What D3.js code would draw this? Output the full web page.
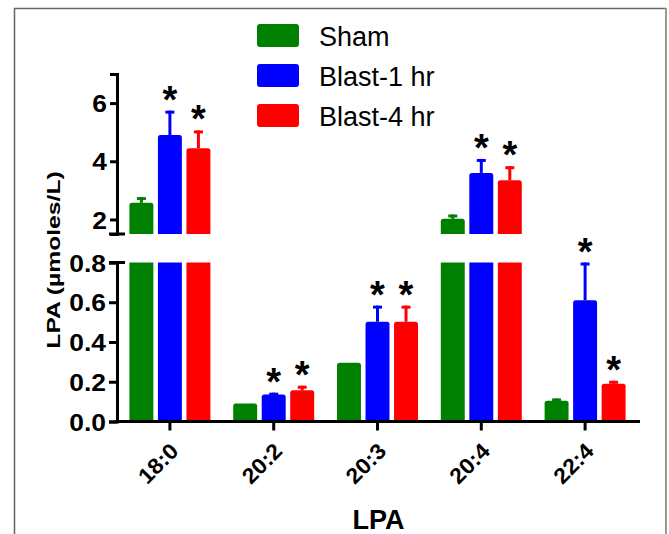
<!doctype html>
<html>
<head>
	<title>LPA species after blast</title>
	<script src="https://d3js.org/d3.v7.min.js"></script>
	<style>
	body { margin: 0; background: #fff; }
	svg text { font-family: "Liberation Sans", Arial, sans-serif; fill: #000; }
	svg .axis path, svg .axis line { stroke: #000; stroke-width: 3px; }
	</style>
</head>
<body>
<script>

	// the values (mean and mean + error)
	var categories = ["18:0", "20:2", "20:3", "20:4", "22:4"];
	var seriesNames = ["Sham", "Blast-1 hr", "Blast-4 hr"];
	var seriesColors = ["#008000", "#0000ff", "#ff0000"];

	var sham_mean   = [2.57, 0.09, 0.295, 2.02, 0.104];
	var sham_top    = [2.77, 0.09, 0.295, 2.17, 0.116];
	var blast1_mean = [4.90, 0.136, 0.502, 3.60, 0.61];
	var blast1_top  = [5.74, 0.145, 0.583, 4.08, 0.80];
	var blast4_mean = [4.45, 0.157, 0.502, 3.35, 0.19];
	var blast4_top  = [5.06, 0.180, 0.583, 3.83, 0.205];

	// significance stars (1 = star)
	var sham_star   = [0, 0, 0, 0, 0];
	var blast1_star = [1, 1, 1, 1, 1];
	var blast4_star = [1, 1, 1, 1, 1];

	// broken y axis: lower part and upper part
	var lowerTicks = [0, 0.2, 0.4, 0.6, 0.8];
	var upperTicks = [2, 4, 6];
	var lowerDomain = [0, 0.8];
	var upperDomain = [1.5, 7];

	var means = [sham_mean, blast1_mean, blast4_mean];
	var tops = [sham_top, blast1_top, blast4_top];
	var stars = [sham_star, blast1_star, blast4_star];

	var W = 669, H = 534;
	var STRETCH = 1.1; // the bold labels are drawn a bit wide in the figure

	var svg = d3.select("body").append("svg")
		.attr("width", W)
		.attr("height", H);

	// the frame round the figure
	svg.append("path")
		.attr("d", "M14.5," + H + "V8.5H666")
		.attr("fill", "none")
		.attr("stroke", "#666")
		.attr("stroke-width", 1.5);
	svg.append("line")
		.attr("x1", 666).attr("x2", 666)
		.attr("y1", 8).attr("y2", H)
		.attr("stroke", "#999")
		.attr("stroke-width", 2);

	// scales
	var xScale = d3.scaleBand()
		.domain(categories)
		.range([118, 637]);

	var xSub = d3.scaleBand()
		.domain(d3.range(seriesNames.length))
		.range([0, xScale.bandwidth()])
		.paddingInner(0.16)
		.paddingOuter(0.4);

	var yLower = d3.scaleLinear().domain(lowerDomain).range([421.5, 262.5]);
	var yUpper = d3.scaleLinear().domain(upperDomain).range([234, 74]);

	var axisX = 117;

	// bar shape, rounded on top only when the real top is shown
	function barPath(x, yTop, yBottom, w, r) {
		if (!r) return "M" + x + "," + yBottom + "V" + yTop + "H" + (x + w) + "V" + yBottom + "Z";
		return "M" + x + "," + yBottom +
			"V" + (yTop + r) +
			"Q" + x + "," + yTop + " " + (x + r) + "," + yTop +
			"H" + (x + w - r) +
			"Q" + (x + w) + "," + yTop + " " + (x + w) + "," + (yTop + r) +
			"V" + yBottom + "Z";
	}

	// flatten the table for drawing
	var bars = [];
	categories.forEach(function(c, ci) {
		seriesNames.forEach(function(s, si) {
			bars.push({
				cat: c, s: si,
				mean: means[si][ci],
				top: tops[si][ci],
				star: stars[si][ci],
				color: seriesColors[si]
			});
		});
	});

	var gBars = svg.append("g");

	bars.forEach(function(d) {
		var x = xScale(d.cat) + xSub(d.s);
		var w = xSub.bandwidth();
		var cx = x + w / 2;
		var inUpper = d.mean > lowerDomain[1];

		// lower segment
		var lowTop = Math.min(d.mean, lowerDomain[1]);
		gBars.append("path")
			.attr("d", barPath(x, yLower(lowTop), yLower(0), w, inUpper ? 0 : 2.5))
			.attr("fill", d.color);

		// upper segment
		if (inUpper) {
			gBars.append("path")
				.attr("d", barPath(x, yUpper(d.mean), yUpper(upperDomain[0]), w, 2.5))
				.attr("fill", d.color);
		}

		var y = inUpper ? yUpper : yLower;
		var yMean = y(d.mean);
		var yErr = y(d.top);

		// error bar, only upwards
		if (d.top > d.mean) {
			gBars.append("line")
				.attr("x1", cx).attr("x2", cx)
				.attr("y1", yMean).attr("y2", yErr)
				.attr("stroke", d.color)
				.attr("stroke-width", 3);
			gBars.append("line")
				.attr("x1", cx - 4.5).attr("x2", cx + 4.5)
				.attr("y1", yErr + 1.5).attr("y2", yErr + 1.5)
				.attr("stroke", d.color)
				.attr("stroke-width", 3);
		}

		if (d.star) {
			gBars.append("text")
				.attr("x", cx)
				.attr("y", Math.min(yErr, yMean) + 2)
				.attr("text-anchor", "middle")
				.attr("font-size", 38)
				.attr("font-weight", "bold")
				.text("*");
		}
	});

	// y axes
	var yAxisLower = d3.axisLeft(yLower)
		.tickValues(lowerTicks)
		.tickFormat(d3.format(".1f"))
		.tickSizeOuter(0)
		.tickSize(8)
		.tickPadding(3);

	var yAxisUpper = d3.axisLeft(yUpper)
		.tickValues(upperTicks)
		.tickFormat(d3.format("d"))
		.tickSizeOuter(0)
		.tickSize(7)
		.tickPadding(3);

	var gyl = svg.append("g")
		.attr("class", "axis")
		.attr("transform", "translate(" + axisX + ",0)")
		.call(yAxisLower);

	var gyu = svg.append("g")
		.attr("class", "axis")
		.attr("transform", "translate(" + axisX + ",0)")
		.call(yAxisUpper);

	// bigger bold tick labels, widened, keeping their right edge in place
	svg.selectAll(".axis")
		.attr("font-size", 24)
		.attr("font-family", null)
		.attr("font-weight", "bold");

	svg.selectAll(".axis .tick text")
		.attr("dy", "0.36em")
		.attr("transform", function() {
			var x = +d3.select(this).attr("x");
			return "translate(" + x + ",0) scale(" + STRETCH + ",1)";
		})
		.attr("x", 0);

	// the caps at the break
	gyl.append("line")
		.attr("x1", -8).attr("x2", 8)
		.attr("y1", yLower(lowerDomain[1])).attr("y2", yLower(lowerDomain[1]));
	gyu.append("line")
		.attr("x1", -8).attr("x2", 8)
		.attr("y1", yUpper(upperDomain[0])).attr("y2", yUpper(upperDomain[0]));

	// x axis
	var xAxis = d3.axisBottom(xScale)
		.tickSize(9)
		.tickSizeOuter(0)
		.tickPadding(4);

	var gx = svg.append("g")
		.attr("class", "axis")
		.attr("transform", "translate(0," + yLower(0) + ")")
		.call(xAxis);

	gx.attr("font-size", 22)
		.attr("font-family", null)
		.attr("font-weight", "bold");

	gx.select(".domain").attr("d", "M" + (axisX - 1.5) + ",0H640");

	gx.selectAll(".tick text")
		.attr("text-anchor", "end")
		.attr("dy", 0)
		.attr("transform", "translate(10,31) rotate(-45) scale(1.05,1)")
		.attr("y", 0)
		.attr("x", 0);

	// axis titles
	svg.append("text")
		.attr("transform", "translate(60,260) rotate(-90) scale(1.3,1)")
		.attr("text-anchor", "middle")
		.attr("font-size", 19)
		.attr("font-weight", "bold")
		.text("LPA (µmoles/L)");

	svg.append("text")
		.attr("x", (axisX + 640) / 2)
		.attr("y", 529)
		.attr("text-anchor", "middle")
		.attr("font-size", 27)
		.attr("font-weight", "bold")
		.text("LPA");

	// legend
	var legend = svg.append("g")
		.attr("transform", "translate(257,24)");

	var item = legend.selectAll("g")
		.data(seriesNames)
		.enter().append("g")
		.attr("transform", function(d, i) { return "translate(0," + (i * 40) + ")"; });

	item.append("rect")
		.attr("width", 42)
		.attr("height", 23)
		.attr("rx", 3)
		.attr("fill", function(d, i) { return seriesColors[i]; });

	item.append("text")
		.attr("x", 62)
		.attr("y", 22)
		.attr("font-size", 27)
		.text(function(d) { return d; });

</script>
</body>
</html>
